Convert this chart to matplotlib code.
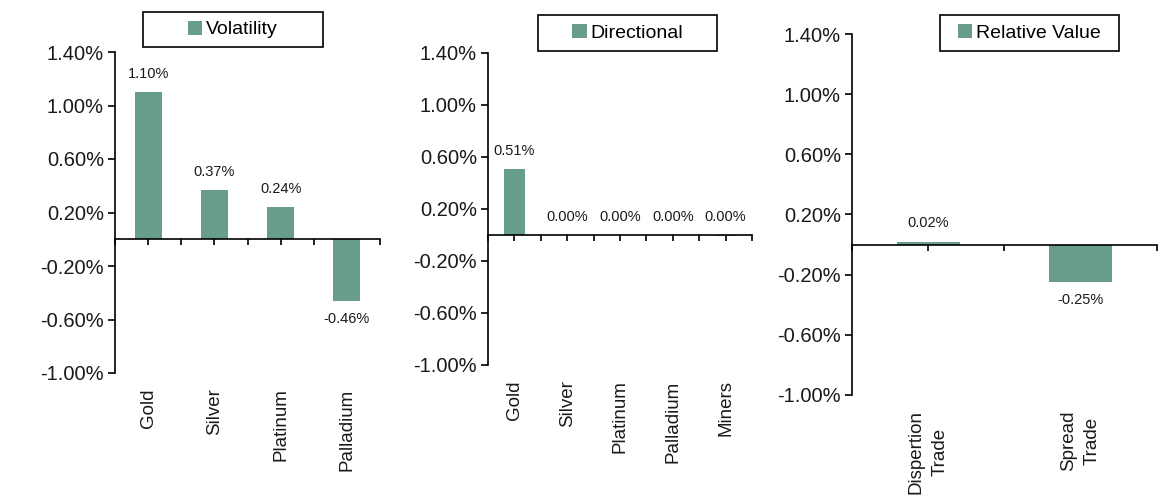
import matplotlib
matplotlib.use("Agg")
import matplotlib.pyplot as plt
from matplotlib.patches import Rectangle
from matplotlib.ticker import FixedLocator, PercentFormatter
import numpy as np

plt.rcParams['font.family'] = ['Liberation Sans', 'DejaVu Sans']
plt.rcParams['axes.unicode_minus'] = False

# ---- data ----
vol_categories = ["Gold", "Silver", "Platinum", "Palladium"]
vol_values = [1.10, 0.37, 0.24, -0.46]

dir_categories = ["Gold", "Silver", "Platinum", "Palladium", "Miners"]
dir_values = [0.51, 0.00, 0.00, 0.00, -0.004]

rv_categories = ["Dispertion\nTrade", "Spread\nTrade"]
rv_values = [0.02, -0.25]

series_names = ["Volatility", "Directional", "Relative Value"]
y_ticks = [1.40, 1.00, 0.60, 0.20, -0.20, -0.60, -1.00]

BAR = "#699d8b"
TXT = "#1a1a1a"

fig = plt.figure(figsize=(11.62, 5.01), dpi=100)

def px_axes(x0, x1, ytop, ybot):
    W, H = 1162, 501
    return [x0 / W, (H - ybot) / H, (x1 - x0) / W, (ybot - ytop) / H]

panels = [
    (vol_categories, vol_values, series_names[0], px_axes(115, 380, 52, 373), (143, 323, 12, 47)),
    (dir_categories, dir_values, series_names[1], px_axes(488, 752, 53, 365), (538, 717, 15, 51)),
    (rv_categories, rv_values, series_names[2], px_axes(852, 1157, 34, 395), (940, 1119, 15, 51)),
]

for cats, vals, name, rect, box in panels:
    ax = fig.add_axes(rect)
    n = len(cats)
    x = np.arange(n)
    ax.bar(x, vals, width=0.41, color=BAR, edgecolor='none', zorder=2)
    ax.set_xlim(-0.5, n - 0.5)
    ax.set_ylim(-1.00, 1.40)

    # y axis
    ax.yaxis.set_major_locator(FixedLocator(y_ticks))
    ax.yaxis.set_major_formatter(PercentFormatter(decimals=2))
    ax.tick_params(axis='y', direction='out', length=5, width=1.2, labelsize=14.5,
                   labelcolor=TXT, pad=3)
    for s in ['top', 'right']:
        ax.spines[s].set_visible(False)
    ax.spines['left'].set_linewidth(1.2)

    # zero line with ticks (boundaries + centers)
    ax.spines['bottom'].set_position(('data', 0))
    ax.spines['bottom'].set_linewidth(1.2)
    ax.spines['bottom'].set_zorder(3)
    ax.xaxis.set_major_locator(FixedLocator(list(np.arange(n + 1) - 0.5)))
    ax.xaxis.set_minor_locator(FixedLocator(list(x)))
    ax.tick_params(axis='x', which='both', direction='out', length=4, width=1.2,
                   labelbottom=False)

    # category labels at bottom of axes
    sec = ax.secondary_xaxis('bottom', functions=(lambda v: v, lambda v: v))
    sec.spines['bottom'].set_visible(False)
    sec.set_xticks(x)
    sec.set_xticklabels(cats, rotation=90, fontsize=13.5, color=TXT, va='top',
                        ha='center')
    for t in sec.get_xticklabels():
        t.set_linespacing(1.5)
        t.set_multialignment('center')
    sec.tick_params(axis='x', length=0, pad=11)

    # data labels
    for xi, v in zip(x, vals):
        lab = f"{v:.2f}%"
        if lab == "-0.00%":
            lab = "0.00%"
        if v >= -0.005:
            ax.annotate(lab, (xi, max(v, 0)), xytext=(0, 8), textcoords='offset points',
                        ha='center', va='bottom', fontsize=10.5, color=TXT)
        else:
            ax.annotate(lab, (xi, v), xytext=(0, -8), textcoords='offset points',
                        ha='center', va='top', fontsize=10.5, color=TXT)

    # legend box
    bx0, bx1, by0, by1 = box
    W, H = 1162, 501
    fig.patches.append(Rectangle((bx0 / W, 1 - by1 / H), (bx1 - bx0) / W, (by1 - by0) / H,
                                 transform=fig.transFigure, facecolor='white',
                                 edgecolor='black', linewidth=1.2, zorder=5))
    handle = Rectangle((0, 0), 1, 1, facecolor=BAR, edgecolor='none')
    fig.legend([handle], [name], loc='center',
               bbox_to_anchor=((bx0 + bx1) / 2 / W, 1 - (by0 + by1) / 2 / H),
               bbox_transform=fig.transFigure, frameon=False, fontsize=14,
               handlelength=0.75, handleheight=0.75, handletextpad=0.2,
               borderpad=0, borderaxespad=0)

fig.savefig("out.png", dpi=100, facecolor='white')
